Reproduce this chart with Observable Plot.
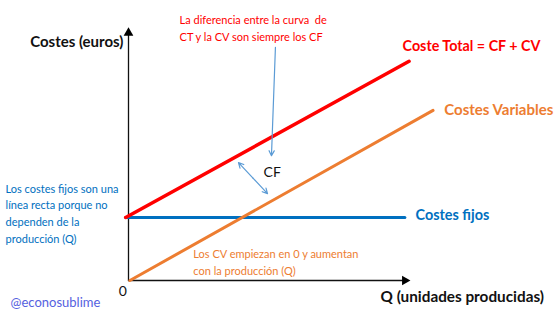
<!DOCTYPE html>
<html>
<head>
<meta charset="utf-8">
<script src="https://cdn.jsdelivr.net/npm/d3@7"></script>
<script src="https://cdn.jsdelivr.net/npm/@observablehq/plot@0.6"></script>
<style>
  html, body { margin: 0; padding: 0; background: #fff; }
  #chart svg { display: block; }
</style>
</head>
<body>
<div id="chart"></div>
<script>
// Quantity (Q) and cost (euros) in chart units
const totalCost = [{q: -0.1, c: 100}, {q: 9.95, c: 348}];
const variableCost = [{q: 0.05, c: 0}, {q: 10.8, c: 270}];
const fixedCost = [{q: -0.1, c: 100}, {q: 9.8, c: 100}];

const axisY = [{q: 0, c: 0}, {q: 0, c: 392}];
const axisX = [{q: 0, c: 0}, {q: 9.75, c: 0}];
const axisHeads = [{q: 0, c: 393, rot: 0}, {q: 9.8, c: 0, rot: 90}];

const pointerArrow = [{q1: 5.21, c1: 370, q2: 5.07, c2: 198}];
// double-headed arrow drawn as two halves from its midpoint
const gapArrow = [
  {q1: 4.415, c1: 162.5, q2: 3.9, c2: 187},
  {q1: 4.415, c1: 162.5, q2: 4.93, c2: 138}
];

const seriesLabels = [
  {text: "Coste Total = CF + CV", q: 9.72, c: 371, color: "#ff0000", size: 14.3},
  {text: "Costes Variables", q: 11.2, c: 271, color: "#ed7d31", size: 15},
  {text: "Costes fijos", q: 10.18, c: 103, color: "#0070c0", size: 14.4}
];
const titleY = [{text: "Costes (euros)", q: -0.18, c: 378}];
const titleX = [{text: "Q (unidades producidas)", q: 8.94, c: -27}];
const notesRed = [
  {text: "La diferencia entre la curva  de", q: 1.81, c: 413},
  {text: "CT y la CV son siempre los CF", q: 1.81, c: 386}
];
const notesBlue = [
  {text: "Los costes fijos son una", q: -4.36, c: 144},
  {text: "línea recta porque no", q: -4.36, c: 119},
  {text: "dependen de la", q: -4.36, c: 92},
  {text: "producción (Q)", q: -4.36, c: 65}
];
const notesOrange = [
  {text: "Los CV empiezan en 0 y aumentan", q: 2.3, c: 41},
  {text: "con la producción (Q)", q: 2.3, c: 15}
];
const plainLabels = [
  {text: "CF", q: 4.79, c: 171},
  {text: "0", q: -0.35, c: -17}
];
const credit = [{text: "@econosublime", q: -4.18, c: -35}];

const font = "Lato, 'Open Sans', sans-serif";

const chart = Plot.plot({
  width: 556,
  height: 314,
  margin: 0,
  x: {domain: [0, 10], range: [128, 410], axis: null},
  y: {domain: [0, 100], range: [280, 217], axis: null},
  color: {type: "identity"},
  style: {fontFamily: font, background: "#fff"},
  marks: [
    Plot.line(axisY, {x: "q", y: "c", stroke: "#111", strokeWidth: 1.3}),
    Plot.line(axisX, {x: "q", y: "c", stroke: "#111", strokeWidth: 1.3}),
    Plot.dot(axisHeads, {x: "q", y: "c", symbol: "triangle", r: 3.6, fill: "#000", rotate: "rot"}),
    Plot.line(fixedCost, {x: "q", y: "c", stroke: "#0070c0", strokeWidth: 3}),
    Plot.line(variableCost, {x: "q", y: "c", stroke: "#ed7d31", strokeWidth: 3}),
    Plot.line(totalCost, {x: "q", y: "c", stroke: "#ff0000", strokeWidth: 3.5}),
    Plot.arrow(pointerArrow, {x1: "q1", y1: "c1", x2: "q2", y2: "c2", stroke: "#5b9bd5", strokeWidth: 1.2, headLength: 7, headAngle: 55}),
    Plot.arrow(gapArrow, {x1: "q1", y1: "c1", x2: "q2", y2: "c2", stroke: "#5b9bd5", strokeWidth: 1.2, headLength: 7, headAngle: 55}),
    Plot.text(seriesLabels, {x: "q", y: "c", text: "text", fill: "color", textAnchor: "start", fontWeight: "bold", fontSize: "size"}),
    Plot.text(titleY, {x: "q", y: "c", text: "text", fill: "#111", textAnchor: "end", fontWeight: "bold", fontSize: 15}),
    Plot.text(titleX, {x: "q", y: "c", text: "text", fill: "#111", textAnchor: "start", fontWeight: "bold", fontSize: 15.3}),
    Plot.text(notesRed, {x: "q", y: "c", text: "text", fill: "#ff0000", textAnchor: "start", fontSize: 11}),
    Plot.text(notesBlue, {x: "q", y: "c", text: "text", fill: "#0070c0", textAnchor: "start", fontSize: 11}),
    Plot.text(notesOrange, {x: "q", y: "c", text: "text", fill: "#ed7d31", textAnchor: "start", fontSize: 11}),
    Plot.text(plainLabels, {x: "q", y: "c", text: "text", fill: "#111", textAnchor: "start", fontSize: 14}),
    Plot.text(credit, {x: "q", y: "c", text: "text", fill: "#5561e0", textAnchor: "start", fontSize: 13})
  ]
});
document.getElementById("chart").appendChild(chart);
</script>
</body>
</html>
